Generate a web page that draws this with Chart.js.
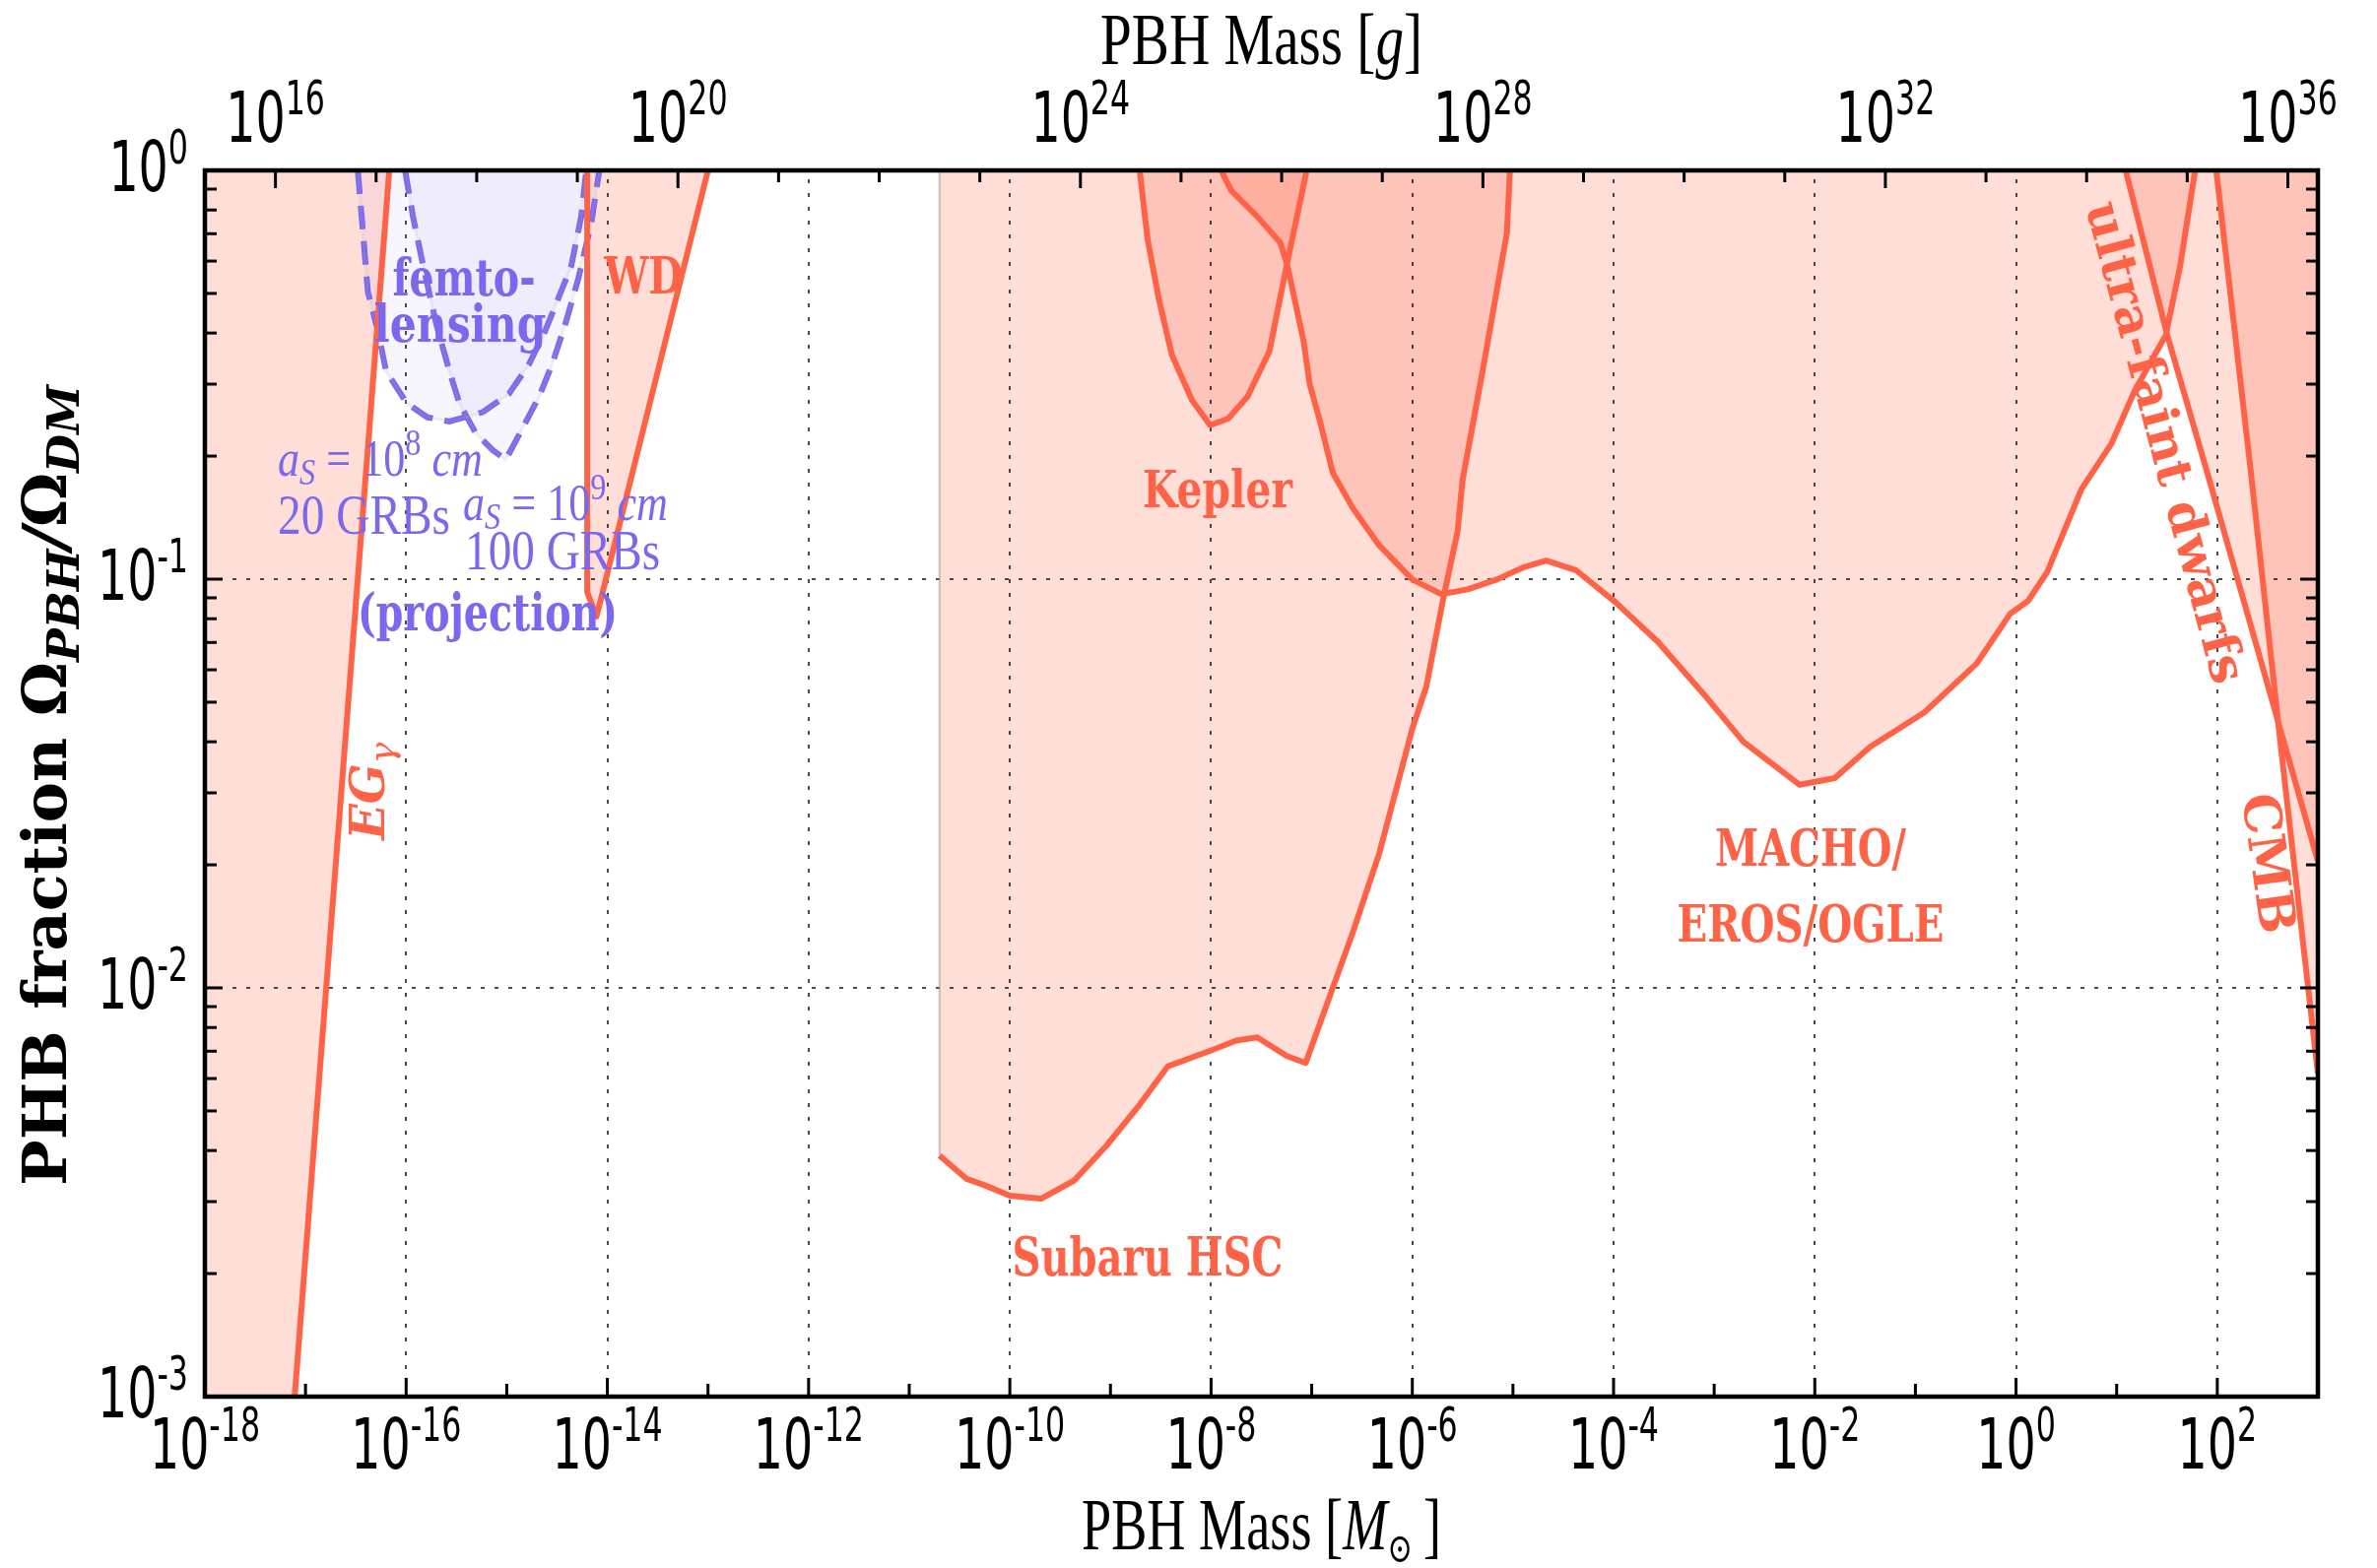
<!DOCTYPE html>
<html>
<head>
<meta charset="utf-8">
<title>PBH abundance constraints</title>
<script src="https://cdn.jsdelivr.net/npm/chart.js@4.4.1/dist/chart.umd.min.js"></script>
<style>
  html, body { margin: 0; padding: 0; background: #ffffff; }
  #wrap { width: 2413px; height: 1592px; }
  canvas { display: block; }
</style>
</head>
<body>
<div id="wrap"><canvas id="chart" width="2413" height="1592"></canvas></div>
<script>
// ---- axis ranges and ticks -------------------------------------------------
const massRange = [1e-18, 1e3];          // PBH mass in solar masses
const fracRange = [1e-3, 1];             // f = Omega_PBH / Omega_DM
const MSUN_IN_G = 1.989e33;              // grams per solar mass (top axis)

const massTickExps  = [-18,-17,-16,-15,-14,-13,-12,-11,-10,-9,-8,-7,-6,-5,-4,-3,-2,-1,0,1,2];
const massLabelExps = [-18,-16,-14,-12,-10,-8,-6,-4,-2,0,2];
const massGridExps  = [-16,-14,-12,-10,-8,-6,-4,-2,0,2];
const gramTickExps  = [16,17,18,19,20,21,22,23,24,25,26,27,28,29,30,31,32,33,34,35,36];
const gramLabelExps = [16,20,24,28,32,36];
const fracTickExps  = [-3,-2,-1,0];
const fracMinorMult = [2,3,4,5,6,7,8,9];
const fracGridExps  = [-2,-1];

// ---- constraint curves (mass in M_sun, fraction f) -------------------------
// extragalactic gamma rays (excluded to the left of the line)
const egMass = [7.8e-18, 6.8e-17];
const egFrac = [1e-3, 1];

// white dwarfs
const wdMass = [6.3e-15, 6.3e-15, 7.8e-15, 1.0e-13];
const wdFrac = [1, 0.093, 0.081, 1];

// femtolensing projections
const femtoAMass = [3.31e-17, 4.17e-17, 5.25e-17, 6.31e-17, 1.02e-16, 1.62e-16, 2.69e-16, 5.75e-16,
                    1.05e-15, 1.66e-15, 2.40e-15, 3.24e-15, 4.37e-15, 5.50e-15, 6.17e-15];
const femtoAFrac = [1, 0.504, 0.404, 0.323, 0.269, 0.249, 0.243, 0.256,
                    0.284, 0.335, 0.404, 0.485, 0.583, 0.771, 1];
const femtoBMass = [9.77e-17, 1.17e-16, 1.48e-16, 2.00e-16, 2.69e-16, 3.39e-16, 4.90e-16, 7.24e-16,
                    9.77e-16, 1.41e-15, 2.09e-15, 2.82e-15, 3.80e-15, 5.13e-15, 6.92e-15, 8.32e-15];
const femtoBFrac = [1, 0.771, 0.583, 0.419, 0.323, 0.269, 0.228, 0.207,
                    0.196, 0.232, 0.279, 0.335, 0.419, 0.542, 0.743, 1];

// Subaru HSC microlensing
const hscMass = [2.00e-11, 3.72e-11, 5.62e-11, 1.00e-10, 2.04e-10, 4.37e-10, 9.12e-10, 1.95e-9,
                 3.72e-9, 1.00e-8, 1.78e-8, 2.88e-8, 5.62e-8, 8.71e-8, 2.57e-7, 4.68e-7,
                 1.00e-6, 1.38e-6, 2.04e-6, 2.82e-6, 3.16e-6, 5.13e-6, 8.71e-6, 9.33e-6];
const hscFrac = [3.89e-3, 3.41e-3, 3.29e-3, 3.10e-3, 3.05e-3, 3.38e-3, 4.11e-3, 5.18e-3,
                 6.43e-3, 7.03e-3, 7.43e-3, 7.57e-3, 6.82e-3, 6.55e-3, 1.37e-2, 2.13e-2,
                 4.31e-2, 5.47e-2, 9.02e-2, 0.131, 0.175, 0.335, 0.703, 1];

// Kepler
const keplerMass = [1.95e-9, 2.34e-9, 3.02e-9, 4.07e-9, 6.46e-9, 9.77e-9, 1.48e-8, 2.29e-8, 3.80e-8, 5.62e-8, 8.91e-8];
const keplerFrac = [1, 0.678, 0.485, 0.354, 0.274, 0.238, 0.247, 0.279, 0.361, 0.583, 1];

// MACHO / EROS / OGLE
const machoMass = [1.26e-8, 1.58e-8, 2.88e-8, 4.90e-8, 5.75e-8, 8.32e-8, 9.55e-8, 1.20e-7, 1.62e-7,
                   2.57e-7, 4.68e-7, 1.00e-6, 1.95e-6, 3.55e-6, 6.92e-6, 1.29e-5, 2.14e-5, 4.27e-5,
                   1.05e-4, 2.75e-4, 7.94e-4, 1.95e-3, 7.08e-3, 1.58e-2, 3.55e-2, 0.123, 0.407,
                   0.871, 1.32, 2.04, 4.47, 8.91, 15.1, 30.9, 42.7, 60.3];
const machoFrac = [1, 0.893, 0.771, 0.664, 0.583, 0.381, 0.300, 0.245, 0.182,
                   0.149, 0.121, 0.0998, 0.0918, 0.0944, 0.0998, 0.107, 0.111, 0.105,
                   0.0877, 0.0703, 0.0522, 0.0400, 0.0314, 0.0326, 0.0389, 0.0472, 0.0622,
                   0.0822, 0.0885, 0.104, 0.166, 0.215, 0.289, 0.396, 0.583, 1];

// ultra-faint dwarfs
const ufdMass = [12.3, 31.6, 77.6, 1000];
const ufdFrac = [1, 0.398, 0.186, 0.0204];

// CMB accretion
const cmbMass = [97.7, 214, 437, 1000];
const cmbFrac = [1, 0.186, 0.0372, 0.00617];

// ---- styling -----------------------------------------------------------------
const TOMATO = '#ff6347';
const PINK = 'rgba(255,99,71,0.21)';
const LAV = '#7b68ee';
const LAV_FILL = 'rgba(123,104,238,0.06)';
const LINE_W = 6;

const pts = (xs, ys) => xs.map((v, i) => ({ x: v, y: ys[i] }));

function region(xs, ys, extra) {
  return Object.assign({
    data: pts(xs, ys), fill: 'end', backgroundColor: PINK,
    borderColor: TOMATO, borderWidth: LINE_W, borderJoinStyle: 'round', pointRadius: 0, clip: 0
  }, extra || {});
}

const datasets = [
  // gamma-ray fill reaches the left edge of the plot
  { data: [{ x: massRange[0], y: fracRange[0] }].concat(pts(egMass, egFrac)), fill: 'end',
    backgroundColor: PINK, borderWidth: 0, pointRadius: 0 },
  region(egMass, egFrac, { fill: false }),
  region(wdMass, wdFrac),
  region(hscMass, hscFrac),
  { data: [{ x: hscMass[0], y: hscFrac[0] }, { x: hscMass[0], y: fracRange[1] }], fill: false,
    borderColor: 'rgba(150,150,150,0.55)', borderWidth: 2, pointRadius: 0 },
  region(keplerMass, keplerFrac),
  region(machoMass, machoFrac),
  region(ufdMass, ufdFrac),
  region(cmbMass, cmbFrac),
  // femtolensing projections
  { data: pts(femtoAMass, femtoAFrac), fill: 'end', backgroundColor: LAV_FILL,
    borderColor: 'rgba(170,170,185,0.18)', borderWidth: 3, pointRadius: 0, clip: 0 },
  { data: pts(femtoBMass, femtoBFrac), fill: 'end', backgroundColor: LAV_FILL,
    borderColor: 'rgba(170,170,185,0.18)', borderWidth: 3, pointRadius: 0, clip: 0 },
  { data: pts(femtoAMass, femtoAFrac), fill: false, borderColor: LAV, borderWidth: LINE_W,
    borderDash: [24, 12], pointRadius: 0, clip: 0 },
  { data: pts(femtoBMass, femtoBFrac), fill: false, borderColor: LAV, borderWidth: LINE_W,
    borderDash: [24, 12], pointRadius: 0, clip: 0 }
];

// ---- text helpers -------------------------------------------------------------
const TICK_FONT = '72px "DejaVu Sans"';
const TICK_SUP = '48px "DejaVu Sans"';
const SERIF = '"Liberation Serif"';
const B52 = 'bold 52px "DejaVu Serif"';

// runs: [text, font, dy]
function drawRich(ctx, runs, x, y, o) {
  ctx.save();
  let total = 0;
  const widths = runs.map(r => { ctx.font = r[1]; const w = ctx.measureText(r[0]).width; total += w; return w; });
  const sx = o.w ? o.w / total : (o.sx || 1);
  ctx.translate(x, y);
  if (o.rot) ctx.rotate(o.rot * Math.PI / 180);
  ctx.scale(sx, 1);
  let cx = o.align === 'left' ? 0 : o.align === 'right' ? -total : -total / 2;
  ctx.fillStyle = o.color || '#000';
  ctx.textAlign = 'left';
  ctx.textBaseline = o.baseline || 'alphabetic';
  runs.forEach((r, i) => { ctx.font = r[1]; ctx.fillText(r[0], cx, r[2] || 0); cx += widths[i]; });
  ctx.restore();
}

const aS = p => [['a', 'italic 52px ' + SERIF], ['S', 'italic 38px ' + SERIF, 9],
                 [' = 10', '52px ' + SERIF], [p, '38px ' + SERIF, -21], [' cm', 'italic 52px ' + SERIF]];

const plotLabels = [
  { runs: [['femto-', B52]], at: [3.76e-16, 0.494], color: LAV, w: 145 },
  { runs: [['lensing', B52]], at: [3.43e-16, 0.381], color: LAV, w: 175 },
  { runs: [['(projection)', B52]], at: [6.46e-16, 0.0749], color: LAV, w: 264 },
  { runs: aS('8'), at: [5.30e-18, 0.179], align: 'left', color: LAV, w: 208 },
  { runs: [['20 GRBs', '58px ' + SERIF]], at: [5.30e-18, 0.129], align: 'left', color: LAV, w: 175 },
  { runs: aS('9'), at: [3.67e-16, 0.1395], align: 'left', color: LAV, w: 208 },
  { runs: [['100 GRBs', '58px ' + SERIF]], at: [3.85e-16, 0.1057], align: 'left', color: LAV, w: 198 },
  { runs: [['WD', B52]], at: [2.28e-14, 0.50], color: TOMATO, w: 80 },
  { runs: [['Kepler', B52]], at: [1.16e-8, 0.150], color: TOMATO, w: 152 },
  { runs: [['Subaru HSC', 'bold 55px "DejaVu Serif"']], at: [2.34e-9, 1.98e-3], color: TOMATO, w: 275 },
  { runs: [['MACHO/', B52]], at: [9.08e-3, 0.0199], color: TOMATO, w: 194 },
  { runs: [['EROS/OGLE', B52]], at: [9.08e-3, 0.0130], color: TOMATO, w: 271 },
  { runs: [['EG', 'italic bold 48px "DejaVu Serif"'], ['\u03b3', 'italic 36px "DejaVu Serif"', 10]],
    at: [6.05e-17, 0.0303], rot: -90, color: TOMATO },
  { runs: [['ultra-faint dwarfs', 'bold 51px "DejaVu Serif"']], at: [28.4, 0.215], rot: 75,
    baseline: 'middle', color: TOMATO },
  { runs: [['CMB', 'bold 52px "DejaVu Serif"']], at: [297, 0.0201], rot: 82,
    baseline: 'middle', color: TOMATO }
];

const powLabel = e => [['10', TICK_FONT], [String(e), TICK_SUP, -28]];

// ---- frame, grid, ticks and text ----------------------------------------------
const framePlugin = {
  id: 'frame',
  beforeDatasetsDraw(chart) {
    const { ctx, chartArea: a, scales: { x, y } } = chart;
    ctx.save();
    ctx.strokeStyle = 'rgba(30,30,30,0.8)';
    ctx.lineWidth = 2;
    ctx.setLineDash([4, 10]);
    massGridExps.forEach(e => {
      const px = Math.round(x.getPixelForValue(Math.pow(10, e)));
      ctx.beginPath(); ctx.moveTo(px, a.bottom); ctx.lineTo(px, a.top); ctx.stroke();
    });
    fracGridExps.forEach(e => {
      const py = Math.round(y.getPixelForValue(Math.pow(10, e)));
      ctx.beginPath(); ctx.moveTo(a.left, py); ctx.lineTo(a.right, py); ctx.stroke();
    });
    ctx.restore();
  },
  afterDatasetsDraw(chart) {
    const { ctx, chartArea: a, scales: { x, y } } = chart;

    plotLabels.forEach(L => {
      drawRich(ctx, L.runs, x.getPixelForValue(L.at[0]), y.getPixelForValue(L.at[1]),
        { align: L.align || 'center', w: L.w, rot: L.rot, color: L.color, baseline: L.baseline });
    });

    ctx.save();
    ctx.strokeStyle = '#000';
    ctx.setLineDash([]);
    ctx.lineWidth = 4.5;
    ctx.strokeRect(a.left, a.top, a.right - a.left, a.bottom - a.top);

    ctx.lineWidth = 3;
    const seg = (x1, y1, x2, y2) => { ctx.beginPath(); ctx.moveTo(x1, y1); ctx.lineTo(x2, y2); ctx.stroke(); };
    massTickExps.forEach(e => {
      const px = x.getPixelForValue(Math.pow(10, e));
      if (px <= a.left + 1) return;
      seg(px, a.bottom, px, a.bottom - (massLabelExps.includes(e) ? 19 : 13));
    });
    gramTickExps.forEach(e => {
      const px = x.getPixelForValue(Math.pow(10, e) / MSUN_IN_G);
      if (px <= a.left + 1 || px >= a.right - 1) return;
      seg(px, a.top, px, a.top + (gramLabelExps.includes(e) ? 18 : 12));
    });
    fracTickExps.forEach(e => {
      const py = y.getPixelForValue(Math.pow(10, e));
      seg(a.left, py, a.left + 18, py);
      seg(a.right, py, a.right - 18, py);
      if (e < 0) fracMinorMult.forEach(m => {
        const pm = y.getPixelForValue(m * Math.pow(10, e));
        seg(a.left, pm, a.left + 12, pm);
        seg(a.right, pm, a.right - 12, pm);
      });
    });
    ctx.restore();

    // tick labels
    massLabelExps.forEach(e => drawRich(ctx, powLabel(e), x.getPixelForValue(Math.pow(10, e)), a.bottom + 73,
      { align: 'center', sx: 0.66 }));
    gramLabelExps.forEach(e => drawRich(ctx, powLabel(e), x.getPixelForValue(Math.pow(10, e) / MSUN_IN_G), a.top - 29,
      { align: 'center', sx: 0.66 }));
    fracTickExps.forEach(e => drawRich(ctx, powLabel(e), a.left - 17, y.getPixelForValue(Math.pow(10, e)) + 21,
      { align: 'right', sx: 0.66 }));

    // axis titles
    const cxMid = (a.left + a.right) / 2;
    drawRich(ctx, [['PBH Mass [', '75px ' + SERIF], ['g', 'italic 75px ' + SERIF], [']', '75px ' + SERIF]],
      cxMid, a.top - 108, { align: 'center', w: 327 });
    drawRich(ctx, [['PBH Mass [', '74px ' + SERIF], ['M', 'italic 74px ' + SERIF],
                   ['\u2299', '42px "DejaVu Serif"', 13], ['\u2009]', '74px ' + SERIF]],
      cxMid, a.bottom + 155, { align: 'center', w: 365 });
    drawRich(ctx, [['PHB fraction ', 'bold 62px "DejaVu Serif"'], ['\u03a9', 'bold 62px "DejaVu Serif"'],
                   ['PBH', 'italic bold 45px "DejaVu Serif"', 13], ['/', 'italic bold 62px "DejaVu Serif"'],
                   ['\u03a9', 'bold 62px "DejaVu Serif"'], ['DM', 'italic bold 45px "DejaVu Serif"', 13]],
      a.left - 141, (a.top + a.bottom) / 2 + 2, { align: 'center', rot: -90 });
  }
};

new Chart(document.getElementById('chart'), {
  type: 'line',
  data: { datasets },
  options: {
    responsive: false,
    animation: false,
    devicePixelRatio: 1,
    layout: { padding: { left: 208, right: 60, top: 173, bottom: 174 } },
    scales: {
      x: { type: 'logarithmic', min: massRange[0], max: massRange[1], display: false },
      y: { type: 'logarithmic', min: fracRange[0], max: fracRange[1], display: false }
    },
    elements: { line: { tension: 0 }, point: { radius: 0 } },
    plugins: {
      legend: { display: false },
      tooltip: { enabled: false },
      filler: { drawTime: 'beforeDatasetsDraw' }
    }
  },
  plugins: [framePlugin]
});
</script>
</body>
</html>
